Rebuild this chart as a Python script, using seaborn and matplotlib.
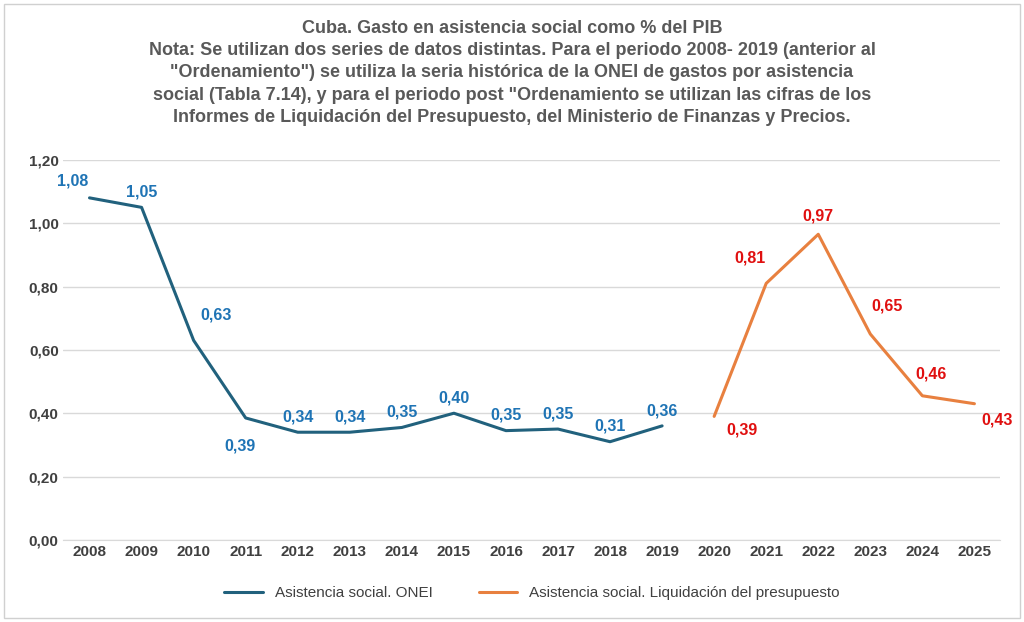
import numpy as np
import pandas as pd
import seaborn as sns
import matplotlib.pyplot as plt
from matplotlib.patches import Rectangle

years = [str(y) for y in range(2008, 2026)]
onei_years = years[:12]
onei_vals = [1.08, 1.05, 0.63, 0.385, 0.34, 0.34, 0.355, 0.40, 0.345, 0.35, 0.31, 0.36]
onei_lbls = ["1,08", "1,05", "0,63", "0,39", "0,34", "0,34", "0,35", "0,40", "0,35", "0,35", "0,31", "0,36"]
liq_years = years[12:]
liq_vals = [0.39, 0.81, 0.965, 0.65, 0.455, 0.43]
liq_lbls = ["0,39", "0,81", "0,97", "0,65", "0,46", "0,43"]

sns.set_style("white")
plt.rcParams['font.family'] = ['Liberation Sans', 'DejaVu Sans']

fig = plt.figure(figsize=(10.24, 6.22), dpi=100)
ax = fig.add_axes([0.062, 0.132, 0.915, 0.611])
fig.patches.append(Rectangle((0.004, 0.006), 0.992, 0.988, transform=fig.transFigure,
                             fill=False, edgecolor="#d0d0d0", lw=1))

df1 = pd.DataFrame({"year": onei_years, "val": onei_vals})
df2 = pd.DataFrame({"year": liq_years, "val": liq_vals})
sns.lineplot(x=range(12), y=df1["val"], ax=ax, color="#21617D", lw=2.2,
             label="Asistencia social. ONEI")
sns.lineplot(x=range(12, 18), y=df2["val"], ax=ax, color="#E8803F", lw=2.2,
             label="Asistencia social. Liquidación del presupuesto")

blue = "#1F74B5"
red = "#E01010"
offs1 = [(-12, 12), (0, 11), (16, 18), (-4, -20), (0, 11), (0, 11), (0, 11), (0, 11), (0, 11), (0, 11), (0, 11), (0, 11)]
for i, (v, t, o) in enumerate(zip(onei_vals, onei_lbls, offs1)):
    ax.annotate(t, (i, v), xytext=o, textcoords="offset points", ha="center", va="center",
                color=blue, fontsize=11.5, fontweight="bold")
offs2 = [(20, -10), (-12, 18), (0, 13), (12, 20), (6, 16), (16, -12)]
for i, (v, t, o) in enumerate(zip(liq_vals, liq_lbls, offs2)):
    ax.annotate(t, (i + 12, v), xytext=o, textcoords="offset points", ha="center", va="center",
                color=red, fontsize=11.5, fontweight="bold")

ax.set_xlim(-0.5, 17.5)
ax.set_ylim(0, 1.2)
ax.set_xticks(range(18))
ax.set_xticklabels(years, fontsize=11, fontweight="bold", color="#404040")
yt = np.arange(0, 1.21, 0.2)
ax.set_yticks(yt)
ax.set_yticklabels([f"{v:.2f}".replace(".", ",") for v in yt], fontsize=11,
                   fontweight="bold", color="#404040")
ax.grid(axis="y", color="#d9d9d9", lw=1)
for s in ["top", "right", "left"]:
    ax.spines[s].set_visible(False)
ax.spines["bottom"].set_color("#d9d9d9")
ax.tick_params(length=0)
ax.set_xlabel("")
ax.set_ylabel("")

leg = ax.legend(loc="upper center", bbox_to_anchor=(0.5, -0.085), ncol=2, frameon=False,
                prop={"size": 11}, handlelength=2.5, columnspacing=3)
for t in leg.get_texts():
    t.set_color("#404040")

title = ("Cuba. Gasto en asistencia social como % del PIB\n"
         "Nota: Se utilizan dos series de datos distintas. Para el periodo 2008- 2019 (anterior al\n"
         "\"Ordenamiento\") se utiliza la seria histórica de la ONEI de gastos por asistencia\n"
         "social (Tabla 7.14), y para el periodo post \"Ordenamiento se utilizan las cifras de los\n"
         "Informes de Liquidación del Presupuesto, del Ministerio de Finanzas y Precios.")
fig.text(0.5, 0.968, title, ha="center", va="top", fontsize=13, fontweight="bold",
         color="#595959", linespacing=1.4)

fig.savefig("out.png", dpi=100)
